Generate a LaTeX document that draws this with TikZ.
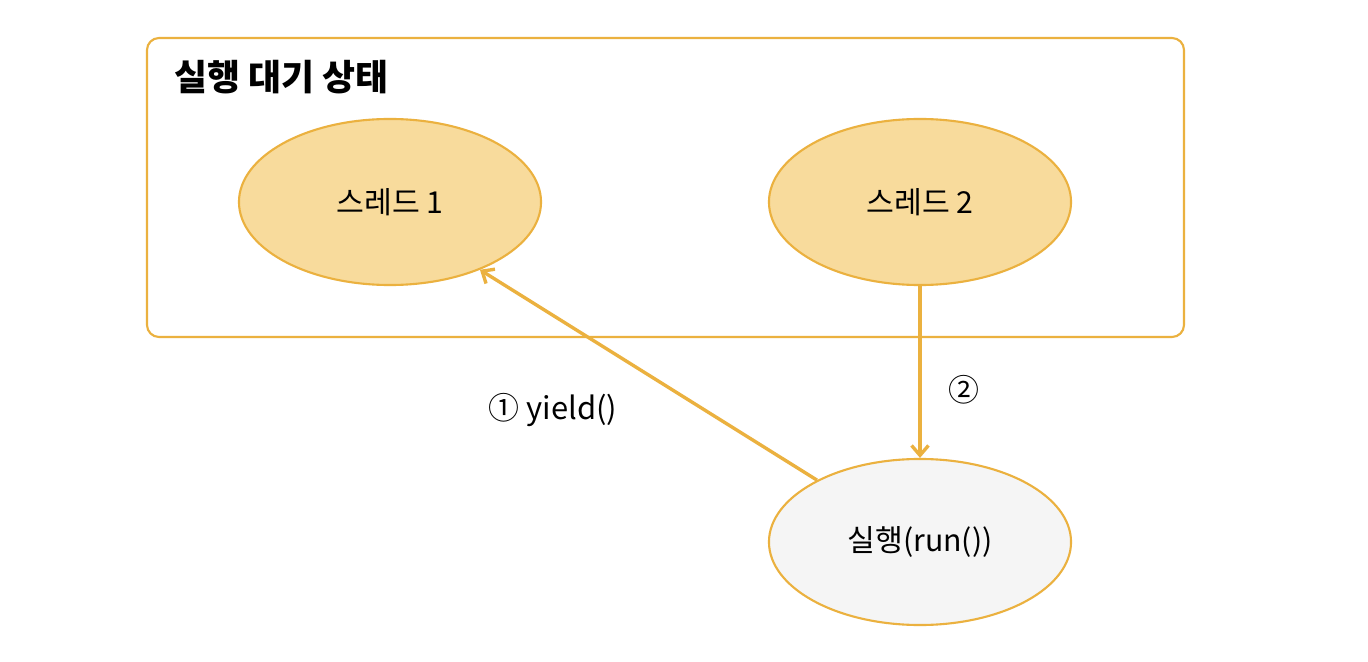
\documentclass[tikz,border=0pt]{standalone}
\usepackage{fontspec}
\setmainfont{Noto Sans CJK KR}
\usetikzlibrary{arrows.meta,shapes.geometric}
\definecolor{edge}{HTML}{EBB13F}
\definecolor{wait}{HTML}{F8DB9C}
\definecolor{runfill}{HTML}{F5F5F5}
\begin{document}
\begin{tikzpicture}[x=0.025cm,y=-0.025cm,
  th/.style={ellipse, draw=edge, line width=1.5pt, minimum width=302*0.7113pt, minimum height=166*0.7113pt, inner sep=0pt, font=\fontsize{21.5}{26}\selectfont},
  conn/.style={draw=edge, line width=2.4pt, -{Straight Barb[length=7pt,width=12pt,line width=2.4pt]}},
  lbl/.style={font=\fontsize{22}{26}\selectfont, inner sep=0pt}]
\useasboundingbox (0,0) rectangle (1368,662);
\fill[white] (0,0) rectangle (1368,662);
\draw[edge, line width=1.5pt, rounded corners=0.3cm] (147,38) rectangle (1184,337);
\node[anchor=west, font=\fontsize{25.5}{30}\bfseries\selectfont, inner sep=0pt] (title) at (174,77) {실행 대기 상태};
\node[th, fill=wait] (t1) at (390,202) {스레드 1};
\node[th, fill=wait] (t2) at (920,202) {스레드 2};
\node[th, fill=runfill] (run) at (920,542) {실행(run())};
\draw[conn] (run.149) -- (t1.-37);
\draw[conn] (t2.south) -- (run.north);
\node[lbl] (l1) at (553,410) {① yield()};
\node[lbl] (l2) at (964,390) {②};
\end{tikzpicture}
\end{document}
